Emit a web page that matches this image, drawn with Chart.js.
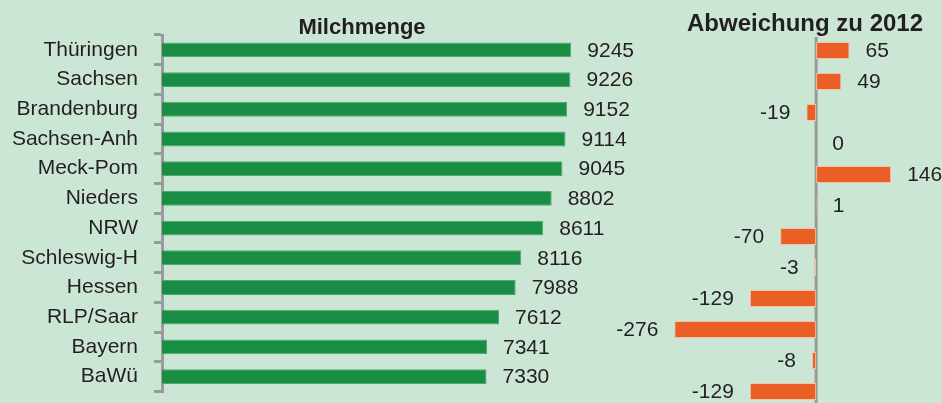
<!DOCTYPE html>
<html>
<head>
<meta charset="utf-8">
<script src="https://cdn.jsdelivr.net/npm/chart.js@4"></script>
<style>
  html, body { margin: 0; padding: 0; overflow: hidden; background: #cce6d5; }
  #wrap { position: relative; width: 942px; height: 403px; overflow: hidden; }
  canvas { position: absolute; left: 0; top: 0; }
  .titel { position: absolute; font-family: "Liberation Sans", Arial, sans-serif; font-weight: bold; color: #231f20; white-space: nowrap; transform: translateX(-50%); }
</style>
</head>
<body>
<div id="wrap">
  <canvas id="menge" width="650" height="420"></canvas>
  <canvas id="abweichung" width="942" height="420"></canvas>
  <div class="titel" style="left:362px; top:14px; font-size:22px">Milchmenge</div>
  <div class="titel" style="left:805px; top:9px; font-size:24px">Abweichung zu 2012</div>
</div>
<script>
const laender = ['Thüringen', 'Sachsen', 'Brandenburg', 'Sachsen-Anh', 'Meck-Pom', 'Nieders', 'NRW', 'Schleswig-H', 'Hessen', 'RLP/Saar', 'Bayern', 'BaWü']
const milchmenge = [9245, 9226, 9152, 9114, 9045, 8802, 8611, 8116, 7988, 7612, 7341, 7330]
const abweichung = [65, 49, -19, 0, 146, 1, -70, -3, -129, -276, -8, -129]

const schrift = '"Liberation Sans", Arial, sans-serif'
const textFarbe = '#231f20'

// Werte neben die Balken schreiben
const wertLabels = {
    id: 'wertLabels',
    afterDatasetsDraw(chart) {
        const ctx = chart.ctx
        const xs = chart.scales.x
        const ys = chart.scales.y
        const werte = chart.data.datasets[0].data
        ctx.save()
        ctx.font = '21px ' + schrift
        ctx.fillStyle = textFarbe
        ctx.textBaseline = 'middle'
        werte.forEach((v, i) => {
            const y = ys.getPixelForValue(i) + 1
            if (v < 0) {
                ctx.textAlign = 'right'
                ctx.fillText(String(v), xs.getPixelForValue(v) - 16, y)
            } else {
                ctx.textAlign = 'left'
                ctx.fillText(String(v), xs.getPixelForValue(v) + 16, y)
            }
        })
        ctx.restore()
    }
}

// Nulllinie rechts
const nullLinie = {
    id: 'nullLinie',
    beforeDatasetsDraw(chart, args, opts) {
        if (!opts.zeichnen) return
        const ctx = chart.ctx
        const x = chart.scales.x.getPixelForValue(0)
        ctx.save()
        ctx.strokeStyle = '#9a9a9a'
        ctx.lineWidth = 3
        ctx.beginPath()
        ctx.moveTo(x, chart.chartArea.top + 2)
        ctx.lineTo(x, chart.chartArea.bottom)
        ctx.stroke()
        ctx.restore()
    }
}

new Chart(document.getElementById('menge'), {
    type: 'bar',
    data: {
        labels: laender,
        datasets: [{
            data: milchmenge,
            backgroundColor: '#1a8d44',
            borderColor: '#4fa86c',
            borderWidth: 1,
            borderSkipped: 'left',
            barPercentage: 0.5,
            categoryPercentage: 1
        }]
    },
    options: {
        indexAxis: 'y',
        responsive: false,
        animation: false,
        layout: { padding: { top: 35, bottom: 13, left: 0, right: 1 } },
        scales: {
            x: { display: false, min: 0, max: 11000 },
            y: {
                afterFit: (s) => { s.width = 162 },
                grid: { drawOnChartArea: false, tickLength: 8, color: '#9a9a9a', lineWidth: 3 },
                border: { color: '#9a9a9a', width: 3 },
                ticks: { autoSkip: false, color: textFarbe, padding: 16, font: { family: schrift, size: 21 } }
            }
        },
        plugins: { legend: { display: false }, tooltip: { enabled: false } }
    },
    plugins: [wertLabels]
})

new Chart(document.getElementById('abweichung'), {
    type: 'bar',
    data: {
        labels: laender,
        datasets: [{
            data: abweichung,
            backgroundColor: '#e95f26',
            borderColor: '#f3c3a3',
            borderWidth: 1,
            borderSkipped: false,
            barPercentage: 0.55,
            categoryPercentage: 1
        }]
    },
    options: {
        indexAxis: 'y',
        responsive: false,
        animation: false,
        layout: { padding: { top: 35, bottom: 13, left: 662, right: 0 } },
        scales: {
            x: { display: false, min: -300, max: 245 },
            y: { display: false }
        },
        plugins: { legend: { display: false }, tooltip: { enabled: false }, nullLinie: { zeichnen: true } }
    },
    plugins: [nullLinie, wertLabels]
})
</script>
</body>
</html>
